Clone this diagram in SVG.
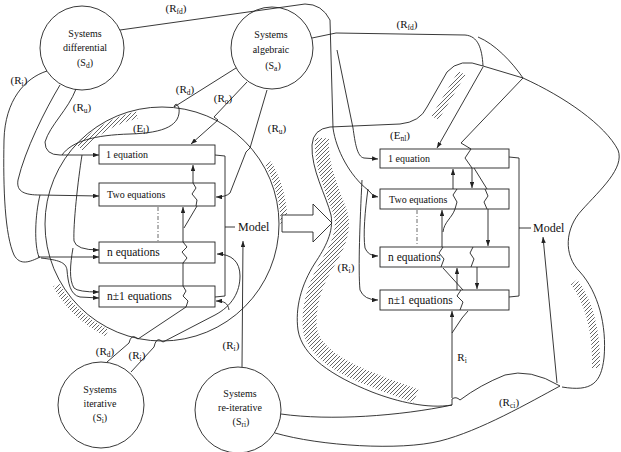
<svg xmlns="http://www.w3.org/2000/svg" width="621" height="452" viewBox="0 0 621 452" font-family="'Liberation Serif', 'Times New Roman', serif">
<defs>
<marker id="ah" viewBox="0 0 8 6" refX="8" refY="3" markerWidth="6" markerHeight="4.5" orient="auto" markerUnits="userSpaceOnUse">
<path d="M0,0 L8,3 L0,6 z" fill="#222"/>
</marker>
<pattern id="hatch" patternUnits="userSpaceOnUse" width="4" height="4">
<path d="M-1,5 L5,-1 M-1,1 L1,-1 M3,5 L5,3" stroke="#222" stroke-width="0.7"/>
</pattern>
<style>
.ln{fill:none;stroke:#222;stroke-width:0.9}
.ar{marker-end:url(#ah)}
.nd{fill:none;stroke:#222;stroke-width:0.9}
.bx{fill:#fff;stroke:#222;stroke-width:0.9}
.ht{fill:none;stroke:url(#hatch)}
.dd{fill:none;stroke:#444;stroke-width:0.8;stroke-dasharray:4,2,1,2}
text{font-family:'Liberation Serif','Times New Roman',serif;fill:#111}
.c{text-anchor:middle;font-size:10px}
.lb{text-anchor:middle;font-size:11px}
.t{font-size:10px}
.t2{font-size:11.5px}
.m{font-size:12px}
.s{font-size:7.5px}
</style>
</defs>
<rect width="621" height="452" fill="#fff"/>

<g id="hatching">
<path class="ht" stroke-width="7" d="M80,148 A112,112 0 0 1 137,115"/>
<path class="ht" stroke-width="7" d="M56,285 A122,122 0 0 0 107,333"/>
<path class="ht" stroke-width="7" d="M268,163 A122,122 0 0 1 284,224"/>
<path class="ht" stroke-width="14" d="M322,138 C320,168 335,195 341,215 C345,233 336,250 326,266 C313,288 308,310 310,330 C314,352 340,368 378,382 C395,389 408,393 416,396"/>
<path class="ht" stroke-width="8" d="M435,118 L462,73"/>
<path class="ht" stroke-width="8" d="M574,282 C588,300 597,330 596,368"/>
</g>

<g id="left-boxes">
<g id="l-eq1"><rect class="bx" x="99" y="145" width="116" height="19"/><text class="t" x="106" y="158">1 equation</text></g>
<g id="l-eq2"><rect class="bx" x="99" y="183" width="116" height="23"/><text class="t" x="107" y="198">Two equations</text></g>
<g id="l-eqn"><rect class="bx" x="99" y="242" width="116" height="21"/><text class="t2" x="107" y="256">n equations</text></g>
<g id="l-eqn1"><rect class="bx" x="99" y="286" width="116" height="21"/><text class="t2" x="107" y="300">n±1 equations</text></g>
</g>

<g id="right-boxes">
<g id="r-eq1"><rect class="bx" x="380" y="149" width="129" height="19"/><text class="t" x="388" y="162">1 equation</text></g>
<g id="r-eq2"><rect class="bx" x="380" y="189" width="129" height="20"/><text class="t" x="389" y="203">Two equations</text></g>
<g id="r-eqn"><rect class="bx" x="380" y="247" width="129" height="20"/><text class="t2" x="388" y="261">n equations</text></g>
<g id="r-eqn1"><rect class="bx" x="380" y="290" width="129" height="20"/><text class="t2" x="388" y="304">n±1 equations</text></g>
</g>

<g id="el-circle"><circle class="nd" cx="162" cy="224" r="117"/></g>

<g id="sd"><circle class="nd" cx="82" cy="48" r="42"/>
<text class="c" x="85" y="37">Systems</text><text class="c" x="85" y="51">differential</text><text class="c" x="85" y="66">(S<tspan class="s" dy="1.5">d</tspan><tspan dy="-1.5">)</tspan></text></g>
<g id="sa"><circle class="nd" cx="272" cy="48" r="41"/>
<text class="c" x="271" y="38">Systems</text><text class="c" x="271" y="53">algebraic</text><text class="c" x="273" y="69">(S<tspan class="s" dy="1.5">a</tspan><tspan dy="-1.5">)</tspan></text></g>
<g id="si"><circle class="nd" cx="101" cy="405" r="43"/>
<text class="c" x="100" y="393">Systems</text><text class="c" x="100" y="407">iterative</text><text class="c" x="100" y="421">(S<tspan class="s" dy="1.5">i</tspan><tspan dy="-1.5">)</tspan></text></g>
<g id="sri"><circle class="nd" cx="238" cy="410" r="43"/>
<text class="c" x="240" y="397">Systems</text><text class="c" x="240" y="411">re-iterative</text><text class="c" x="241" y="425">(S<tspan class="s" dy="1.5">ri</tspan><tspan dy="-1.5">)</tspan></text></g>

<g id="transition-arrow"><polygon class="bx" points="282,215 313,215 313,204 332,223 313,242 313,232 282,232"/></g>

<g id="model-left"><path class="ln" d="M215,155 L225,156 L225,296 L215,297 M225,227 L235,227"/><text class="m" x="238" y="231">Model</text></g>
<g id="model-right"><path class="ln" d="M509,157 L519,158 L519,296 L509,297 M519,228 L531,228"/><text class="m" x="533" y="232">Model</text></g>

<g id="right-region">
<path class="ln" d="M447,72 Q460,57 483,66 L523,78 C565,97 605,125 618,150 C625,168 600,190 582,210 C565,228 563,255 580,272 C598,292 607,325 604,358 C601,383 592,392 562,387"/>
<path class="ln" d="M447,72 L427,107 Q420,122 400,124 L330,127 Q313,129 312,145 C311,170 326,195 331,215 C334,232 325,248 315,263 C301,285 295,308 298,330 C302,356 332,376 372,392 C398,402 428,409 452,405"/>
<path class="ln" d="M452,405 L452,399 Q456,396 460,400 Q480,385 505,375 Q530,368 560,386"/>
</g>

<g id="connectors">
<path class="ln ar" d="M120,30 L305,4 Q322,4 330,20 L333,128 C336,150 350,176 368,190 Q372,196 378,197"/>
<path class="ln ar" d="M337,50 L353,128 C355,142 357,157 364,158 L378,159"/>
<path class="ln ar" d="M368,189 C365,210 363,235 365,248 Q368,256 378,256"/>
<path class="ln ar" d="M362,180 C360,220 358,270 360,290 Q364,300 378,300"/>
<path class="ln" d="M312,38 L336,33 L465,35 C478,36 482,48 483,66"/>
<path class="ln" d="M478,37 C495,44 512,62 523,78"/>
<path class="ln ar" d="M483,67 L437,148"/>
<path class="ln" d="M523,78 L461,143 L471,149 L465,158 L472,168"/>
<path class="ln ar" d="M453,189 L453,169"/>
<path class="ln ar" d="M472,168 L472,188"/>
<path class="ln" d="M474,168 L487,189"/>
<path class="ln" d="M457,189 L453,195 L457,202 L455,209 M485,189 L488,196 L484,202 L487,209"/>
<path class="ln ar" d="M442,247 L442,210"/>
<path class="ln ar" d="M488,209 L488,246"/>
<path class="ln" d="M455,209 C452,218 444,222 443,232"/>
<path class="dd" d="M417,210 L417,246"/>
<path class="ln" d="M443,247 L439,253 L444,259 L441,267 M473,247 L470,253 L474,259 L471,267"/>
<path class="ln ar" d="M457,290 L457,268"/>
<path class="ln ar" d="M477,267 L477,289"/>
<path class="ln" d="M443,268 L463,290"/>
<path class="ln" d="M461,290 L457,296 L463,302 L460,310"/>
<path class="ln ar" d="M452,398 L452,311"/>
<path class="ln" d="M452,333 L462,318 L468,311"/>
<path class="ln ar" d="M557,383 L543,237"/>
<path class="ln" d="M281,414 C330,421 400,416 452,405"/>
<path class="ln" d="M275,433 C320,446 400,451 440,441 C480,431 530,402 560,386"/>
<path class="ln" d="M47,71 C25,78 5,100 4,140 C3,190 5,235 14,255 C20,266 30,262 40,257"/>
<path class="ln ar" d="M38,257 L99,257"/>
<path class="ln ar" d="M60,85 C45,110 25,150 18,180 C16,192 25,195 40,195 L99,196"/>
<path class="ln ar" d="M76,89 C68,110 50,125 45,142 Q45,155 60,155 L99,155"/>
<path class="ln" d="M236,68 L174,107 Q176,101 179,108 C181,125 165,133 130,134 C95,135 72,141 62,155"/>
<path class="ln ar" d="M82,155 C78,180 73,225 74,241 Q76,250 99,250"/>
<path class="ln ar" d="M73,248 C70,265 69,280 74,288 Q78,292 99,292"/>
<path class="ln" d="M40,195 C35,215 34,245 39,257"/>
<path class="ln ar" d="M41,258 C58,260 66,262 67,270 C68,282 70,295 80,297 L99,298"/>
<path class="ln ar" d="M247,82 L214,117 L218,120 L191,144"/>
<path class="ln ar" d="M267,90 L250,148 L246,152 L230,193 Q226,197 216,197"/>
<path class="ln ar" d="M193,183 L193,165"/>
<path class="ln" d="M193,183 L196,188 L192,194 L197,200 L196,206"/>
<path class="ln ar" d="M183,242 L183,207"/>
<path class="ln" d="M197,206 L184,228"/>
<path class="dd" d="M158,207 L158,241"/>
<path class="ln" d="M183,242 L187,247 L182,252 L187,258 L183,263 L183,286 L186,291 L183,296 L188,301 L186,307"/>
<path class="ln" d="M107,362 L129,343 Q131,335 135,337 L138,339 L186,307"/>
<path class="ln ar" d="M131,372 L154,347 Q156,338 160,340 L163,342 L215,315 C232,306 240,292 240,276 C240,262 232,254 217,254"/>
<path class="ln ar" d="M229,310 C228,303 224,301 216,301"/>
<path class="ln ar" d="M242,367 L243,241"/>
</g>

<g id="labels">
<text class="lb" x="176" y="12">(R<tspan class="s" dy="2">fd</tspan><tspan dy="-2">)</tspan></text>
<text class="lb" x="19" y="84">(R<tspan class="s" dy="2">i</tspan><tspan dy="-2">)</tspan></text>
<text class="lb" x="82" y="111">(R<tspan class="s" dy="2">u</tspan><tspan dy="-2">)</tspan></text>
<text class="lb" x="141" y="132">(E<tspan class="s" dy="2">l</tspan><tspan dy="-2">)</tspan></text>
<text class="lb" x="185" y="93">(R<tspan class="s" dy="2">d</tspan><tspan dy="-2">)</tspan></text>
<text class="lb" x="223" y="102">(R<tspan class="s" dy="2">o</tspan><tspan dy="-2">)</tspan></text>
<text class="lb" x="277" y="132">(R<tspan class="s" dy="2">u</tspan><tspan dy="-2">)</tspan></text>
<text class="lb" x="105" y="355">(R<tspan class="s" dy="2">d</tspan><tspan dy="-2">)</tspan></text>
<text class="lb" x="137" y="359">(R<tspan class="s" dy="2">i</tspan><tspan dy="-2">)</tspan></text>
<text class="lb" x="231" y="349">(R<tspan class="s" dy="2">i</tspan><tspan dy="-2">)</tspan></text>
<text class="lb" x="407" y="28">(R<tspan class="s" dy="2">fd</tspan><tspan dy="-2">)</tspan></text>
<text class="lb" x="400" y="139">(E<tspan class="s" dy="2">nl</tspan><tspan dy="-2">)</tspan></text>
<text class="lb" x="346" y="271">(R<tspan class="s" dy="2">i</tspan><tspan dy="-2">)</tspan></text>
<text class="lb" x="462" y="361">R<tspan class="s" dy="2">i</tspan></text>
<text class="lb" x="509" y="406">(R<tspan class="s" dy="2">ci</tspan><tspan dy="-2">)</tspan></text>
</g>
</svg>
